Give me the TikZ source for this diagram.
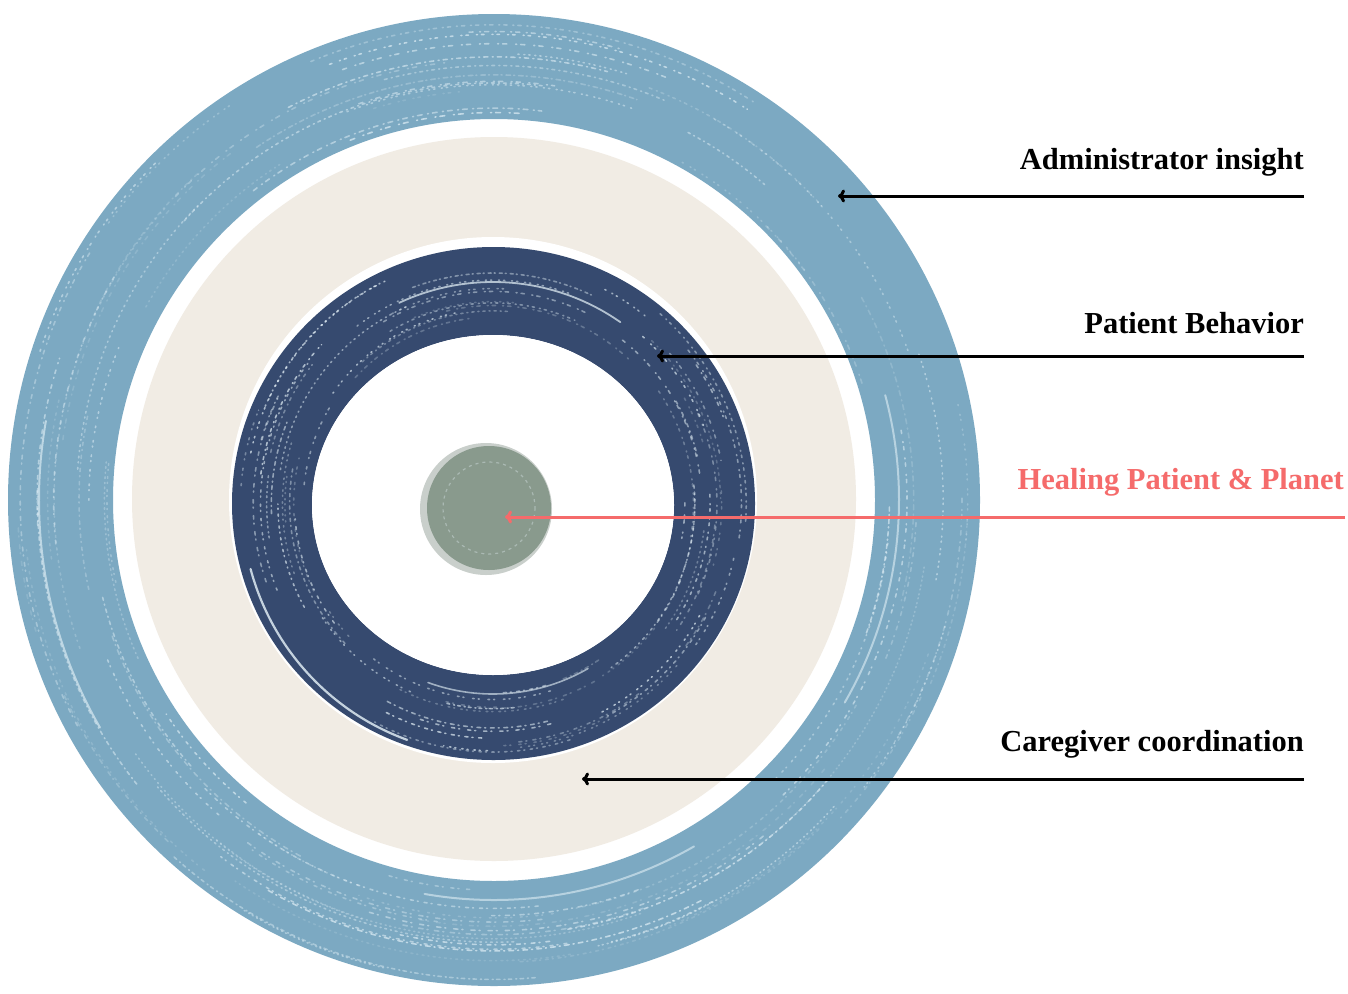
\documentclass[tikz,border=0pt]{standalone}
\usepackage{fontspec}
\setmainfont{Liberation Serif}
\usetikzlibrary{arrows.meta}
\definecolor{ringblue}{HTML}{7CA9C2}
\definecolor{navy}{HTML}{364A6F}
\definecolor{beige}{HTML}{F1ECE4}
\definecolor{sage}{HTML}{899A8D}
\definecolor{sageedge}{HTML}{C9CFCB}
\definecolor{coral}{HTML}{F56B6B}
\definecolor{chalk}{HTML}{E8F4FA}
\tikzset{
  lbl/.style={anchor=base east, inner sep=0pt, font=\fontsize{30.5}{36}\selectfont\bfseries},
  redlbl/.style={anchor=base east, inner sep=0pt, text=coral, font=\fontsize{30.5}{36}\selectfont\bfseries},
  arr/.style={line width=3pt, -{To[length=7pt,width=13pt]}},
  speck/.style={chalk, line width=1.6pt, line cap=round},
}
\begin{document}
\begin{tikzpicture}[x=1pt,y=-1pt]
\useasboundingbox (0,0) rectangle (1348,993);
\fill[white] (0,0) rectangle (1348,993);
% light blue outer ring
\fill[ringblue, even odd rule] (494,500) circle (486) (494,500) circle (381);
\pgfmathsetseed{11}
\foreach \i in {1,...,80}{
  \pgfmathsetmacro\rr{386+rnd*96}
  \pgfmathsetmacro\sa{rnd*360}
  \pgfmathsetmacro\len{12+rnd*50}
  \pgfmathsetmacro\op{0.15+rnd*0.5}
  \pgfmathsetmacro\da{1+rnd*4}
  \pgfmathsetmacro\db{3+rnd*6}
  \draw[speck, opacity=\op, dash pattern=on \da pt off \db pt on 1pt off 4pt] (494,500) ++(\sa:\rr) arc[start angle=\sa, delta angle=\len, radius=\rr];
}
% beige disk
\fill[beige] (494,499) circle (362);
% navy ring with white halo
\fill[white] (493,500) ellipse [x radius=264, y radius=263];
\fill[navy, even odd rule] (493.5,503.5) ellipse [x radius=261.5, y radius=256.5] (493,505) ellipse [x radius=181, y radius=170];
\fill[white] (493,505) ellipse [x radius=181, y radius=170];
\pgfmathsetseed{5}
\foreach \i in {1,...,70}{
  \pgfmathsetmacro\rr{186+rnd*68}
  \pgfmathsetmacro\sa{rnd*360}
  \pgfmathsetmacro\len{10+rnd*50}
  \pgfmathsetmacro\op{0.2+rnd*0.5}
  \pgfmathsetmacro\da{1+rnd*3}
  \pgfmathsetmacro\db{3+rnd*6}
  \draw[speck, opacity=\op, dash pattern=on \da pt off \db pt on 1pt off 4pt] (493,504) ++(\sa:\rr) arc[start angle=\sa, delta angle=\len, radius=\rr];
}
% brighter streaks on navy ring
\draw[chalk, line width=2.2pt, opacity=0.8, line cap=round] (493,504) ++(110:251) arc[start angle=110, delta angle=55, radius=251];
\draw[chalk, line width=1.8pt, opacity=0.7, line cap=round] (493,504) ++(245:222) arc[start angle=245, delta angle=60, radius=222];
\draw[chalk, line width=1.6pt, opacity=0.6, line cap=round] (493,504) ++(60:190) arc[start angle=60, delta angle=50, radius=190];
% brighter streaks on blue ring
\draw[chalk, line width=2pt, opacity=0.6, line cap=round] (494,500) ++(150:455) arc[start angle=150, delta angle=40, radius=455];
\draw[chalk, line width=2pt, opacity=0.55, line cap=round] (494,500) ++(345:405) arc[start angle=345, delta angle=45, radius=405];
\draw[chalk, line width=2pt, opacity=0.55, line cap=round] (494,500) ++(60:400) arc[start angle=60, delta angle=40, radius=400];
% center disk
\fill[sageedge] (486,509) circle (66);
\fill[sage] (489,508) circle (62);
\draw[chalk, line width=1.2pt, opacity=0.35, dash pattern=on 3pt off 4pt] (489,508) circle (46);

% labels
\node[lbl] (ladmin) at (1304,169) {Administrator insight};
\node[lbl] (lpat) at (1304,333) {Patient Behavior};
\node[redlbl] (lheal) at (1344,489) {Healing Patient \& Planet};
\node[lbl] (lcare) at (1304,751) {Caregiver coordination};

\coordinate (sadmin) at (1304,196);
\coordinate (tadmin) at (838,196);
\coordinate (spat) at (1304,356);
\coordinate (tpat) at (657,356);
\coordinate (sheal) at (1345,517);
\coordinate (theal) at (505,517);
\coordinate (scare) at (1304,779);
\coordinate (tcare) at (582,779);

\draw[arr] (sadmin) -- (tadmin);
\draw[arr] (spat) -- (tpat);
\draw[arr, coral] (sheal) -- (theal);
\draw[arr] (scare) -- (tcare);
\end{tikzpicture}
\end{document}
